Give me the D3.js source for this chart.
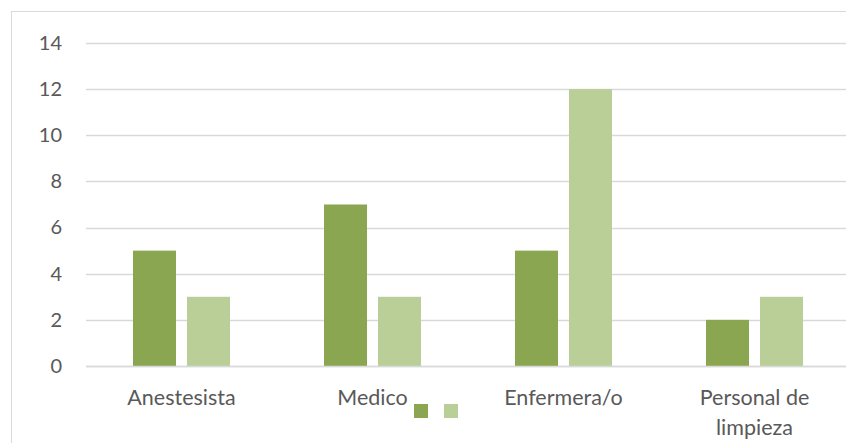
<!DOCTYPE html>
<html>
<head>
<meta charset="utf-8">
<script src="https://cdn.jsdelivr.net/npm/d3@7"></script>
<style>
  html, body { margin: 0; padding: 0; background: #fff; }
  svg { display: block; }
  text { font-family: Lato, "Open Sans", sans-serif; fill: #595959; }
</style>
</head>
<body>
<svg id="chart" width="846" height="443"></svg>
<script>
// Staff categories and the two unnamed series
const categories = [["Anestesista"], ["Medico"], ["Enfermera/o"], ["Personal de", "limpieza"]];
const seriesA = [5, 7, 5, 2];
const seriesB = [3, 3, 12, 3];
const yTicks = [0, 2, 4, 6, 8, 10, 12, 14];
const seriesColors = ["#8BA650", "#BACF97"];

const svg = d3.select("#chart");
const plot = { left: 86, right: 850, top: 43, bottom: 366 };

// Outer chart frame
svg.append("rect")
  .attr("x", 11.5).attr("y", 11.5)
  .attr("width", 860).attr("height", 460)
  .attr("fill", "none").attr("stroke", "#D9D9D9");

const x0 = d3.scaleBand()
  .domain(d3.range(categories.length))
  .range([plot.left, plot.right]);

const step = x0.step();
const barW = 43, barGap = 11;
const groupW = barW * 2 + barGap;

const y = d3.scaleLinear().domain([0, 14]).range([plot.bottom, plot.top]);

// Horizontal gridlines
svg.append("g").selectAll("line").data(yTicks).join("line")
  .attr("x1", plot.left).attr("x2", plot.right)
  .attr("y1", d => Math.round(y(d)) + 0.5).attr("y2", d => Math.round(y(d)) + 0.5)
  .attr("stroke", "#D9D9D9").attr("stroke-width", 1.3);

// Y tick labels
const yAxis = d3.axisLeft(y).tickValues(yTicks).tickSize(0).tickPadding(0);
const gy = svg.append("g").attr("transform", `translate(62,0)`).call(yAxis);
gy.select(".domain").remove();
gy.selectAll("text").attr("font-size", 20).attr("fill", "#595959")
  .style("font-family", "Lato, 'Open Sans', sans-serif");

// Bars
const series = [seriesA, seriesB];
series.forEach((vals, si) => {
  svg.append("g").selectAll("rect").data(vals).join("rect")
    .attr("x", (d, i) => x0(i) + (step - groupW) / 2 + si * (barW + barGap))
    .attr("width", barW)
    .attr("y", d => y(d))
    .attr("height", d => y(0) - y(d))
    .attr("fill", seriesColors[si]);
});

// Baseline
svg.append("line")
  .attr("x1", plot.left).attr("x2", plot.right)
  .attr("y1", Math.round(y(0)) + 0.5).attr("y2", Math.round(y(0)) + 0.5)
  .attr("stroke", "#D9D9D9").attr("stroke-width", 1.3);

// Category labels
const lab = svg.append("g").selectAll("text").data(categories).join("text")
  .attr("x", (d, i) => x0(i) + step / 2)
  .attr("y", 405)
  .attr("text-anchor", "middle")
  .attr("font-size", 21.5);
lab.selectAll("tspan").data(d => d).join("tspan")
  .attr("x", function () { return d3.select(this.parentNode).attr("x"); })
  .attr("dy", (d, i) => i === 0 ? 0 : 30)
  .text(d => d);

// Legend swatches (series have no names)
svg.append("g").selectAll("rect").data(seriesColors).join("rect")
  .attr("x", (d, i) => 414 + i * 30)
  .attr("y", 404)
  .attr("width", 14).attr("height", 14)
  .attr("fill", d => d);
</script>
</body>
</html>
